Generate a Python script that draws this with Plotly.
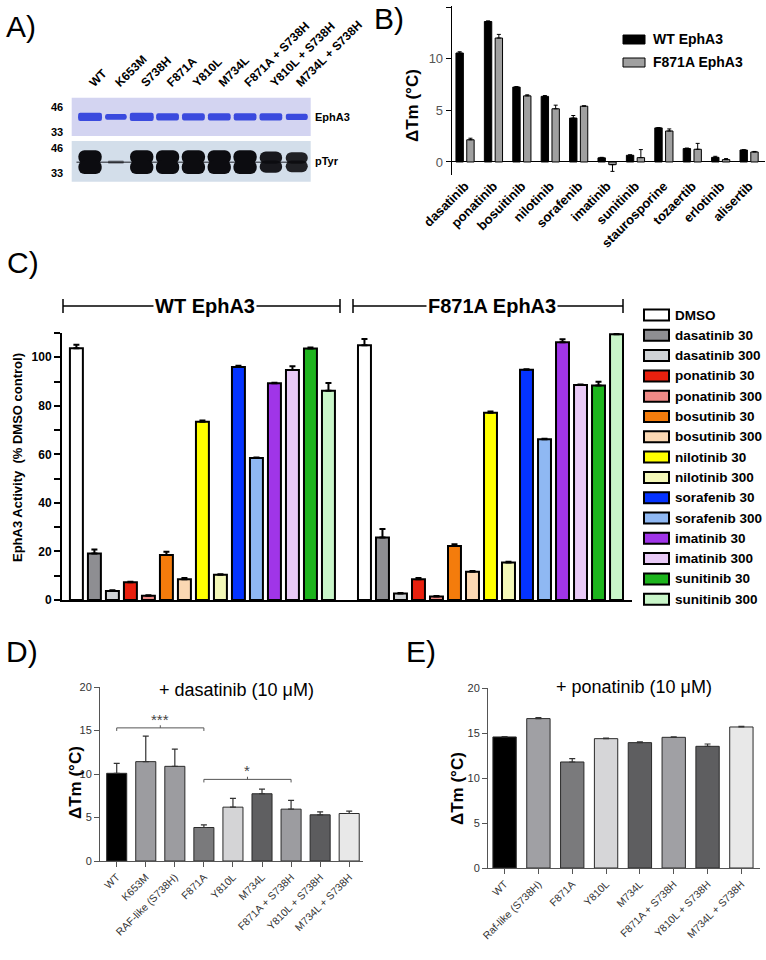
import plotly.graph_objects as go

W, H = 766, 960
FONT = "Arial, 'Liberation Sans', Helvetica, sans-serif"

# ---------------- Panel A : gel (band signal per lane) ----------------
lanes = ["WT", "K653M", "S738H", "F871A", "Y810L", "M734L",
         "F871A + S738H", "Y810L + S738H", "M734L + S738H"]
coomassie_signal = [1.0, 0.7, 1.0, 0.85, 0.85, 0.85, 0.85, 0.85, 0.75]
ptyr_signal = [1.0, 0.06, 1.0, 1.0, 1.0, 1.0, 1.0, 0.9, 0.85]
mw_labels = ["46", "33"]

# ---------------- Panel B : DSF, WT vs F871A ----------------
drugs_b = ["dasatinib", "ponatinib", "bosuitinib", "nilotinib", "sorafenib", "imatinib",
           "sunitinib", "staurosporine", "tozaertib", "erlotinib", "alisertib"]
wt_dtm = [10.55, 13.6, 7.25, 6.35, 4.25, 0.4, 0.65, 3.3, 1.3, 0.45, 1.16]
wt_dtm_err = [0.12, 0.06, 0.05, 0.08, 0.25, 0.05, 0.05, 0.03, 0.05, 0.1, 0.03]
f871a_dtm = [2.15, 12.0, 6.4, 5.15, 5.4, -0.26, 0.42, 3.0, 1.23, 0.23, 0.97]
f871a_dtm_err = [0.15, 0.35, 0.1, 0.35, 0.04, 0.65, 0.78, 0.2, 0.57, 0.1, 0.05]
series_b = ["WT EphA3", "F871A EphA3"]

# ---------------- Panel C : kinase activity ----------------
treatments = ["DMSO", "dasatinib 30", "dasatinib 300", "ponatinib 30", "ponatinib 300",
              "bosutinib 30", "bosutinib 300", "nilotinib 30", "nilotinib 300",
              "sorafenib 30", "sorafenib 300", "imatinib 30", "imatinib 300",
              "sunitinib 30", "sunitinib 300"]
treat_colors = ["#ffffff", "#8e8e92", "#d0d3d6", "#e8200e", "#f08a86", "#f47c0c", "#fbd8b3",
                "#ffff00", "#f4f8b8", "#0433ff", "#8fb8f3", "#a035e8", "#e8c9f6",
                "#1db41d", "#c9f6c9"]
wt_activity = [103.7, 19.2, 3.7, 7.3, 1.8, 18.5, 8.5, 73.4, 10.4, 96.0, 58.5, 89.3, 94.8, 103.6, 86.2]
wt_activity_err = [1.5, 1.6, 0.3, 0.2, 0.2, 1.4, 0.6, 0.6, 0.2, 0.5, 0.2, 0.2, 1.5, 0.4, 3.2]
f871a_activity = [105.0, 25.8, 2.7, 8.6, 1.4, 22.2, 11.6, 77.1, 15.5, 94.9, 66.2, 106.2, 88.6, 88.4, 109.5]
f871a_activity_err = [2.5, 3.4, 0.2, 0.5, 0.2, 0.8, 0.3, 0.6, 0.3, 0.2, 0.2, 1.2, 0.2, 1.5, 0.2]
groups_c = ["WT EphA3", "F871A EphA3"]

# ---------------- Panel D : dasatinib ----------------
mutants_d = ["WT", "K653M", "RAF-like (S738H)", "F871A", "Y810L", "M734L",
             "F871A + S738H", "Y810L + S738H", "M734L + S738H"]
dasat_dtm = [10.08, 11.42, 10.88, 3.85, 6.19, 7.73, 5.96, 5.31, 5.46]
dasat_err = [1.15, 2.93, 1.97, 0.3, 1.0, 0.54, 1.0, 0.34, 0.27]
colors_d = ["#000000", "#9c9ca0", "#9c9ca0", "#7a7a7c", "#d4d4d6", "#5f5f61",
            "#9c9ca0", "#5c5c5e", "#e8e8e8"]

# ---------------- Panel E : ponatinib ----------------
mutants_e = ["WT", "Raf-like (S738H)", "F871A", "Y810L", "M734L",
             "F871A + S738H", "Y810L + S738H", "M734L + S738H"]
ponat_dtm = [14.56, 16.6, 11.78, 14.37, 13.93, 14.52, 13.52, 15.67]
ponat_err = [0.05, 0.12, 0.37, 0.05, 0.08, 0.04, 0.26, 0.08]
colors_e = ["#000000", "#a0a0a4", "#7a7a7c", "#d6d6d8", "#5e5e60",
            "#a0a0a4", "#5e5e60", "#e8e8e8"]


def fx(px):
    return px / W


def fy(py):
    return 1 - py / H


fig = go.Figure()
ann = []
shapes = []


def text(t, x, y, size, color="black", bold=False, xanchor="center", yanchor="middle", angle=0, bg=None):
    d = dict(text=t, x=fx(x), y=fy(y), xref="paper", yref="paper", showarrow=False,
             xanchor=xanchor, yanchor=yanchor, textangle=angle,
             font=dict(family=FONT, size=size, color=color, weight="bold" if bold else "normal"))
    if bg:
        d["bgcolor"] = bg
    ann.append(d)


def pline(x0, y0, x1, y1, color="black", width=2):
    shapes.append(dict(type="line", xref="paper", yref="paper", x0=fx(x0), y0=fy(y0),
                       x1=fx(x1), y1=fy(y1), line=dict(color=color, width=width)))


def prect(x0, y0, x1, y1, fill, lw=1.5):
    shapes.append(dict(type="rect", xref="paper", yref="paper", x0=fx(x0), y0=fy(y0),
                       x1=fx(x1), y1=fy(y1), fillcolor=fill, line=dict(color="black", width=lw)))


# ===== Panel A =====
shapes.append(dict(type="rect", xref="x domain", yref="y domain", x0=0, x1=1, y0=0, y1=1,
                   fillcolor="#d3d4f1", line_width=0, layer="below"))
shapes.append(dict(type="rect", xref="x2 domain", yref="y2 domain", x0=0, x1=1, y0=0, y1=1,
                   fillcolor="#d3deea", line_width=0, layer="below"))
shapes.append(dict(type="line", xref="x2 domain", yref="y2", x0=0.02, x1=0.98, y0=0.48, y1=0.48,
                   line=dict(color="#5a5f68", width=1.5), layer="below"))

OVL = 0.04  # overlap of the two rounded halves of a band (avoids a seam)
top_c = 0.5
top_h = [0.22 * s for s in coomassie_signal]
top_w = [0.62 + 0.3 * s for s in coomassie_signal]
fig.add_trace(go.Bar(x=lanes, y=[h / 2 + OVL for h in top_h], base=top_c - OVL, width=top_w,
                     marker=dict(color="#3a4ade", line_width=0, cornerradius=4),
                     xaxis="x", yaxis="y", showlegend=False, hoverinfo="skip"))
fig.add_trace(go.Bar(x=lanes, y=[-(h / 2 + OVL) for h in top_h], base=top_c + OVL, width=top_w,
                     marker=dict(color="#3a4ade", line_width=0, cornerradius=4),
                     xaxis="x", yaxis="y", showlegend=False, hoverinfo="skip"))

bot_c = 0.48
bot_h = [0.58 * s for s in ptyr_signal]
bot_w = [0.6 + 0.3 * s for s in ptyr_signal]
bot_col = ["rgba(12,12,16,%.2f)" % min(1.0, 0.35 + 0.65 * s) for s in ptyr_signal]
fig.add_trace(go.Bar(x=lanes, y=[h / 2 + OVL for h in bot_h], base=bot_c - OVL, width=bot_w,
                     marker=dict(color=bot_col, line_width=0, cornerradius=8),
                     xaxis="x2", yaxis="y2", showlegend=False, hoverinfo="skip"))
fig.add_trace(go.Bar(x=lanes, y=[-(h / 2 + OVL) for h in bot_h], base=bot_c + OVL, width=bot_w,
                     marker=dict(color=bot_col, line_width=0, cornerradius=8),
                     xaxis="x2", yaxis="y2", showlegend=False, hoverinfo="skip"))

text(mw_labels[0], 57, 107, 11, bold=True)
text(mw_labels[1], 57, 132, 11, bold=True)
text(mw_labels[0], 57, 147.5, 11, bold=True)
text(mw_labels[1], 57, 172.5, 11, bold=True)
text("EphA3", 313, 117, 11, bold=True, xanchor="left")
text("pTyr", 313, 161, 11, bold=True, xanchor="left")

# ===== Panel B =====
def split_err(vals, errs):
    up = [e if v >= 0 else 0 for v, e in zip(vals, errs)]
    dn = [e if v < 0 else 0 for v, e in zip(vals, errs)]
    return up, dn


for name, vals, errs, col, off in [(series_b[0], wt_dtm, wt_dtm_err, "#000000", -0.32),
                                    (series_b[1], f871a_dtm, f871a_dtm_err, "#a0a0a0", 0.06)]:
    up, dn = split_err(vals, errs)
    fig.add_trace(go.Bar(x=drugs_b, y=vals, name=name, width=0.26, offset=off,
                         marker=dict(color=col, line=dict(color="black", width=1)),
                         error_y=dict(type="data", symmetric=False, array=up, arrayminus=dn,
                                      color="black", thickness=1, width=2),
                         xaxis="x3", yaxis="y3", showlegend=False))

prect(623, 35, 645, 44, "#000000", 1)
text(series_b[0], 651, 39.5, 14, bold=True, xanchor="left")
prect(623, 58, 645, 67, "#a0a0a0", 1)
text(series_b[1], 651, 62.5, 14, bold=True, xanchor="left")
text("ΔTm (°C)", 413, 106, 17, bold=True, angle=-90)

# ===== Panel C =====
n_t = len(treatments)
for i in range(n_t):
    fig.add_trace(go.Bar(x=[i, n_t + 1 + i], y=[wt_activity[i], f871a_activity[i]],
                         name=treatments[i], width=0.72,
                         marker=dict(color=treat_colors[i], line=dict(color="black", width=2)),
                         error_y=dict(type="data", symmetric=False,
                                      array=[wt_activity_err[i], f871a_activity_err[i]],
                                      arrayminus=[0, 0], color="black", thickness=2, width=3),
                         xaxis="x4", yaxis="y4", showlegend=False))

for i, t in enumerate(treatments):
    yc = 315 + 20.3 * i
    prect(644, yc - 5.5, 669, yc + 5.5, treat_colors[i], 2)
    text(t, 673, yc, 13.5, bold=True, xanchor="left")

# group brackets
for (x0, x1, lab) in [(63, 340, groups_c[0]), (353, 623, groups_c[1])]:
    pline(x0, 306, x1, 306, width=1.5)
    pline(x0, 299, x0, 313, width=1.5)
    pline(x1, 299, x1, 313, width=1.5)
    text(lab, (x0 + x1) / 2 + 4, 306, 20, bold=True, bg="white")

text("EphA3 Activity\u00a0 (% DMSO control)", 17, 458, 13, bold=True, angle=-90)

# ===== Panel D =====
fig.add_trace(go.Bar(x=mutants_d, y=dasat_dtm, width=0.69,
                     marker=dict(color=colors_d, line=dict(color="#2a2a2a", width=1)),
                     error_y=dict(type="data", symmetric=False, array=dasat_err,
                                  arrayminus=[0] * len(dasat_err), color="#333", thickness=1.2, width=3),
                     xaxis="x5", yaxis="y5", showlegend=False))


def bracket(xa, ya, i0, i1, y, mark):
    c = "#555"
    for (a0, b0, a1, b1) in [(i0, y, i1, y), (i0, y, i0, y - 0.35), (i1, y, i1, y - 0.35),
                             ((i0 + i1) / 2, y, (i0 + i1) / 2, y + 0.3)]:
        shapes.append(dict(type="line", xref=xa, yref=ya, x0=a0, y0=b0, x1=a1, y1=b1,
                           line=dict(color=c, width=1)))
    ann.append(dict(text=mark, x=(i0 + i1) / 2, y=y + 1.0, xref=xa, yref=ya, showarrow=False,
                    font=dict(family=FONT, size=15, color="#444")))


bracket("x5", "y5", 0, 3, 15.3, "***")
bracket("x5", "y5", 3, 6, 9.38, "*")

text("+ dasatinib (10 μM)", 236, 690, 18)
text("ΔTm (°C)", 75, 783, 17, bold=True, angle=-90)

# ===== Panel E =====
fig.add_trace(go.Bar(x=mutants_e, y=ponat_dtm, width=0.69,
                     marker=dict(color=colors_e, line=dict(color="#2a2a2a", width=1)),
                     error_y=dict(type="data", symmetric=False, array=ponat_err,
                                  arrayminus=[0] * len(ponat_err), color="#333", thickness=1.2, width=3),
                     xaxis="x6", yaxis="y6", showlegend=False))
text("+ ponatinib (10 μM)", 634, 687, 18)
text("ΔTm (°C)", 457, 789, 17, bold=True, angle=-90)

# panel letters
text("A)", 4, 26, 30, xanchor="left")
text("B)", 372, 0, 30, xanchor="left", yanchor="top")
text("C)", 5, 262, 30, xanchor="left")
text("D)", 4, 651, 30, xanchor="left")
text("E)", 404, 651, 30, xanchor="left")

# ===== Axes =====
noax = dict(showgrid=False, zeroline=False, showticklabels=False, ticks="", showline=False,
            automargin=False)

layout_axes = dict(
    xaxis=dict(domain=[fx(71.7), fx(310.7)], anchor="y", type="category", range=[-0.71, 8.54],
               side="top", showgrid=False, zeroline=False, showline=False, ticks="",
               tickangle=-45, ticklabelstandoff=5, automargin=False,
               tickfont=dict(family=FONT, size=12, color="black", weight="bold")),
    yaxis=dict(domain=[fy(136), fy(97.7)], anchor="x", range=[0, 1], **noax),
    xaxis2=dict(domain=[fx(71.7), fx(310.7)], anchor="y2", type="category", range=[-0.71, 8.54], **noax),
    yaxis2=dict(domain=[fy(181.7), fy(141)], anchor="x2", range=[0, 1], **noax),
    xaxis3=dict(domain=[fx(451.7), fx(765)], anchor="y3", type="category", range=[-0.47, 10.56],
                showgrid=False, zeroline=False, showline=False, ticks="", tickangle=-45,
                automargin=False,
                tickfont=dict(family=FONT, size=13, color="black", weight="bold")),
    yaxis3=dict(domain=[fy(175), fy(6.2)], anchor="x3", range=[-1.26, 15.08], tickvals=[0, 5, 10, 15],
                ticktext=["0", "5", "10", "15"],
                showgrid=False, zeroline=True, zerolinecolor="black", zerolinewidth=1,
                showline=True, linecolor="black", linewidth=1, ticks="outside", ticklen=5,
                tickcolor="black", automargin=False,
                tickfont=dict(family=FONT, size=13, color="#555")),
    xaxis4=dict(domain=[fx(62), fx(632)], anchor="y4", range=[-0.8, 30.86], showgrid=False,
                zeroline=False, showticklabels=False, ticks="", showline=True,
                linecolor="black", linewidth=2, automargin=False),
    yaxis4=dict(domain=[fy(600), fy(333)], anchor="x4", range=[0, 110],
                tickvals=list(range(0, 111, 10)),
                ticktext=[str(v) if v % 20 == 0 and v <= 100 else "" for v in range(0, 111, 10)],
                showgrid=False, zeroline=False, showline=True, linecolor="black", linewidth=2,
                ticks="outside", ticklen=6, tickwidth=2, tickcolor="black", automargin=False,
                tickfont=dict(family=FONT, size=12, color="black", weight="bold")),
    xaxis5=dict(domain=[fx(100), fx(363)], anchor="y5", type="category", range=[-0.575, 8.475],
                showgrid=False, zeroline=False, showline=True, linecolor="#555", linewidth=1,
                ticks="outside", ticklen=5, tickcolor="#555", tickangle=-45, automargin=False,
                tickfont=dict(family=FONT, size=10.5, color="#333")),
    yaxis5=dict(domain=[fy(861), fy(687)], anchor="x5", range=[0, 20], tickvals=[0, 5, 10, 15, 20],
                showgrid=False, zeroline=False, showline=True, linecolor="#555", linewidth=1,
                ticks="outside", ticklen=5, tickcolor="#555", automargin=False,
                tickfont=dict(family=FONT, size=11, color="#333")),
    xaxis6=dict(domain=[fx(488), fx(760)], anchor="y6", type="category", range=[-0.49, 7.55],
                showgrid=False, zeroline=False, showline=True, linecolor="#555", linewidth=1,
                ticks="outside", ticklen=5, tickcolor="#555", tickangle=-45, automargin=False,
                tickfont=dict(family=FONT, size=10.5, color="#333")),
    yaxis6=dict(domain=[fy(868), fy(688)], anchor="x6", range=[0, 20], tickvals=[0, 5, 10, 15, 20],
                showgrid=False, zeroline=False, showline=True, linecolor="#555", linewidth=1,
                ticks="outside", ticklen=5, tickcolor="#555", automargin=False,
                tickfont=dict(family=FONT, size=11, color="#333")),
)

fig.update_layout(
    width=W, height=H, autosize=False,
    margin=dict(l=0, r=0, t=0, b=0, pad=0, autoexpand=False),
    paper_bgcolor="white", plot_bgcolor="rgba(0,0,0,0)",
    barmode="overlay", showlegend=False, hovermode=False,
    font=dict(family=FONT, color="black"),
    annotations=ann, shapes=shapes,
    **layout_axes,
)

# remove the browser's default page margin so the 766x960 figure fills the window exactly
fig.write_html("out.html",
               config={"displayModeBar": False, "staticPlot": True},
               post_script="document.body.style.margin='0';document.body.style.padding='0';")
